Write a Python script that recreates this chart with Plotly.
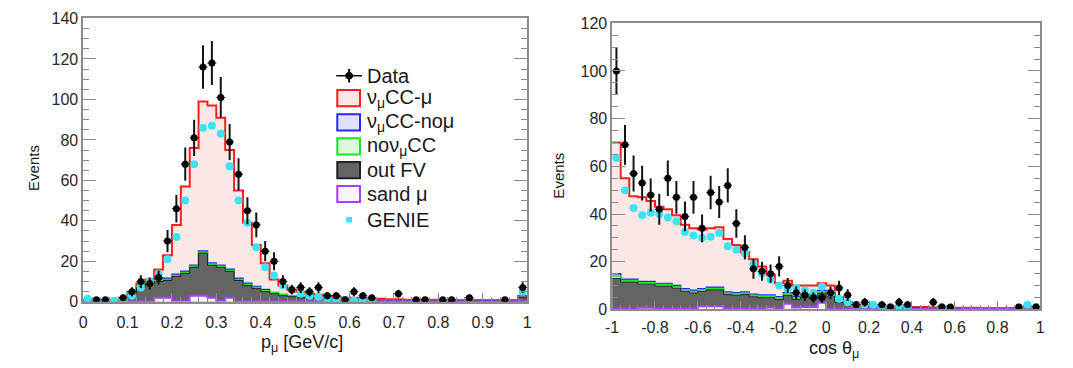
import numpy as np
import plotly.graph_objects as go

W, H = 1073, 368

# ---------------- left panel: muon momentum (50 bins, 0..1 GeV/c)
p_edges = np.round(np.linspace(0.0, 1.0, 51), 4)
p_data = [0, 1, 1, 0, 2, 5, 10, 9, 12, 30, 46, 68, 81, 116, 118, 101, 79, 63, 45, 38,
          25, 20, 10, 6, 7, 5, 7, 3, 3, 1, 5, 3, 2, 0, 0, 4, 0, 1, 1, 0,
          1, 1, 0, 2, 0, 0, 0, 1, 0, 7]
p_genie = [1.5, 0.3, 0.3, 0.5, 1, 3, 7, 10, 14, 21, 32, 50, 68, 86, 87, 83, 67, 50, 39, 27,
           17, 13, 8, 6, 4, 3, 2.5, 1.5, 1, 1, 0.5, 0.5, 0.4, 0, 0, 0, 0, 0, 0, 0,
           0, 0, 0, 0, 0, 0, 0, 0, 0, 5]
p_sand = [0.3, 0.3, 0.3, 0.3, 0.3, 0.3, 0.3, 0.3, 2, 2, 0.5, 0.5, 3, 3, 2, 0.5, 2, 0.3, 0.3, 0.3,
          0.3, 0.3, 0.3, 0.3, 0.3, 0.3, 0.3, 0.3, 0.3, 0.3, 0.3, 0.3, 0.3, 0.3, 0.3, 0.3, 0.3, 0.3, 0.3, 0.3,
          0.3, 0.3, 0.3, 0.3, 0.3, 0.3, 0.3, 0.3, 0.3, 0.3]
p_outfv = [0.2, 0.2, 0.2, 0.3, 1.2, 3.7, 6.7, 8.7, 8, 8.5, 12, 13.5, 14, 21, 16, 16.5, 13, 10.2, 7.7, 6.2,
           4.7, 3.7, 2.7, 2.2, 1.7, 1.7, 1.2, 1.2, 0.9, 0.7, 0.7, 0.7, 0.5, 0.5, 0.4, 0.4, 0.3, 0.3, 0.3, 0.3,
           0.3, 0.3, 0.3, 0.3, 0.3, 0.3, 0.3, 0.3, 0.3, 1.7]
p_nonumucc = [0.1, 0.1, 0.1, 0.1, 0.1, 0.5, 0.5, 0.5, 0.5, 0.5, 0.5, 0.5, 0.5, 0.5, 0.5, 0.5, 0.5, 0.5, 0.5, 0.5,
              0.5, 0.5, 0.5, 0.1, 0.1, 0.1, 0.1, 0.1, 0.1, 0.1, 0.1, 0.1, 0.1, 0.1, 0.1, 0.1, 0.1, 0.1, 0.1, 0.1,
              0.1, 0.1, 0.1, 0.1, 0.1, 0.1, 0.1, 0.1, 0.1, 0.1]
p_numucc_nomu = [0.1, 0.1, 0.1, 0.1, 0.1, 0.1, 0.1, 0.1, 0.6, 0.6, 0.6, 0.6, 0.6, 0.6, 0.6, 0.6, 0.6, 0.6, 0.6, 0.6,
                 0.6, 0.1, 0.1, 0.1, 0.1, 0.1, 0.1, 0.1, 0.1, 0.1, 0.1, 0.1, 0.1, 0.1, 0.1, 0.1, 0.1, 0.1, 0.1, 0.1,
                 0.1, 0.1, 0.1, 0.1, 0.1, 0.1, 0.1, 0.1, 0.1, 0.1]
p_numucc_mu = [0.3, 0.3, 0.3, 0.2, 0.3, 0.4, 1.4, 1.4, 4.9, 11.4, 24.4, 41.9, 57.9, 73.9, 77.9, 72.9, 58.9, 43.4, 29.9, 20.4,
               12.9, 6.4, 4.4, 3.3, 2.8, 1.8, 1.8, 1.3, 1.1, 0.8, 0.8, 0.8, 0.5, 0.5, 0.3, 0.3, 0.2, 0.2, 0.2, 0.2,
               0.1, 0.1, 0.1, 0.1, 0.1, 0.1, 0.1, 0.1, 0.1, 0.8]
p_ticks = [0, 0.1, 0.2, 0.3, 0.4, 0.5, 0.6, 0.7, 0.8, 0.9, 1]
p_ticklabels = ["0", "0.1", "0.2", "0.3", "0.4", "0.5", "0.6", "0.7", "0.8", "0.9", "1"]
p_yticks = [0, 20, 40, 60, 80, 100, 120, 140]

# ---------------- right panel: cos theta (50 bins, -1..1)
c_edges = np.round(np.linspace(-1.0, 1.0, 51), 4)
c_data = [100, 69, 57, 53, 48, 42, 55, 47, 39, 47, 34, 49, 45, 52, 36, 26, 17, 16, 15, 18,
          10, 7, 6, 5, 5, 7, 9, 6, 2, 3, 0, 2, 1, 3, 2, 0, 0, 3, 1, 1,
          0, 0, 0, 0, 0, 0, 0, 1, 0, 1]
c_genie = [63.5, 50, 42.5, 39.5, 40.5, 40, 38.5, 37, 32.5, 31, 30, 30.5, 32, 26.5, 25, 23.5, 19, 15, 12.5, 10,
           8.5, 9, 8, 7, 9.5, 7, 4.5, 3, 2, 2, 2, 1.5, 1, 1.5, 1, 0, 0, 0, 1, 0,
           0, 0, 0, 0, 0, 0, 0, 0, 2, 1]
c_sand = [0.3, 0.3, 0.3, 0.7, 0.7, 0.3, 0.3, 0.3, 0.3, 0.3, 1.3, 1.3, 1.3, 0.3, 0.3, 0.3, 0.3, 0.5, 0.8, 0.3,
          2.4, 0.8, 1, 1, 2.8, 0.3, 0.3, 0.3, 0.3, 0.3, 0.3, 0.3, 0.3, 0.3, 0.3, 0.3, 0.3, 0.3, 0.3, 0.3,
          0.3, 0.3, 0.3, 0.3, 0.3, 0.3, 0.3, 0.3, 0.3, 0.3]
c_outfv = [12.7, 11.2, 11.2, 9.9, 9.9, 9.5, 9.5, 8.6, 7.3, 6.6, 6.3, 6.9, 6.9, 5.9, 5.6, 5.9, 5.0, 4.4, 4.1, 3.9,
           3.5, 3.4, 4.3, 3.5, 4.0, 5.2, 2.7, 1.7, 1.2, 0.9, 0.7, 0.7, 0.5, 0.5, 0.4, 0.4, 0.3, 0.3, 0.3, 0.2,
           0.2, 0.2, 0.2, 0.1, 0.1, 0.1, 0.1, 0.1, 0.1, 0.1]
c_nonumucc = [1.0, 0.6, 0.6, 0.6, 0.6, 0.6, 0.6, 0.6, 0.6, 0.6, 0.6, 0.6, 0.6, 0.6, 0.6, 0.6, 0.6, 0.6, 0.6, 0.6,
              0.6, 0.6, 0.6, 0.6, 0.6, 0.6, 0.6, 0.6, 0.05, 0.05, 0.05, 0.05, 0.05, 0.05, 0.05, 0.05, 0.05, 0.05, 0.05, 0.05,
              0.05, 0.05, 0.05, 0.05, 0.05, 0.05, 0.05, 0.05, 0.05, 0.05]
c_numucc_nomu = [1.0, 0.5, 0.5, 0.5, 0.5, 0.5, 0.5, 0.5, 0.5, 0.5, 0.5, 0.5, 0.5, 0.5, 0.5, 0.5, 0.5, 0.5, 0.5, 0.5,
                 0.5, 0.5, 0.5, 0.5, 0.5, 0.5, 0.05, 0.05, 0.05, 0.05, 0.05, 0.05, 0.05, 0.05, 0.05, 0.05, 0.05, 0.05, 0.05, 0.05,
                 0.05, 0.05, 0.05, 0.05, 0.05, 0.05, 0.05, 0.05, 0.05, 0.05]
c_numucc_mu = [55, 42.4, 34.9, 35.3, 33.8, 32.1, 31.1, 29.5, 26.8, 26.0, 24.8, 24.7, 25.2, 22.2, 20.0, 16.7, 14.6, 12.0, 8.5, 5.7,
               5.0, 4.7, 3.6, 4.4, 3.1, 3.4, 1.4, 0.4, 0.4, 0.7, 0.4, 0.4, 0.3, 0.3, 0.2, 0.2, 0.3, 0.1, 0.1, 0.1,
               0.05, 0.05, 0.05, 0.05, 0.05, 0.05, 0.05, 0.05, 0.05, 0.05]
c_ticks = [-1, -0.8, -0.6, -0.4, -0.2, 0, 0.2, 0.4, 0.6, 0.8, 1]
c_ticklabels = ["-1", "-0.8", "-0.6", "-0.4", "-0.2", "0", "0.2", "0.4", "0.6", "0.8", "1"]
c_yticks = [0, 20, 40, 60, 80, 100, 120]

# ---------------- styles
FONT = "Liberation Sans, Arial, Helvetica, sans-serif"
RED, BLUE, GREEN, PURPLE = "rgb(255,30,30)", "rgb(40,40,255)", "rgb(30,230,30)", "rgb(170,60,255)"
PINK = "rgb(252,231,231)"
GRAY = "rgb(100,100,100)"
CYAN = "rgb(60,228,242)"
FRAME = "rgb(140,140,140)"

fig = go.Figure()


def add_stack(edges, comps, xa, ya):
    sand, outfv, nonu, nomu, mu = [np.array(c, dtype=float) for c in comps]
    c1 = sand
    c2 = c1 + outfv
    c3 = c2 + nonu
    c4 = c3 + nomu
    c5 = c4 + mu
    layers = [
        (c5, RED, 2.0, PINK),
        (c4, BLUE, 1.5, "rgb(225,225,252)"),
        (c3, GREEN, 1.5, "rgb(220,248,220)"),
        (c2, "rgb(35,35,35)", 1.0, GRAY),
        (c1, PURPLE, 2.0, "rgb(249,242,253)"),
    ]
    for vals, lc, lw, fc in layers:
        y = list(vals) + [vals[-1]]
        fig.add_trace(go.Scatter(x=list(edges), y=y, mode="lines", line=dict(shape="hv", color=lc, width=lw),
                                 fill="tozeroy", fillcolor=fc, xaxis=xa, yaxis=ya, showlegend=False,
                                 hoverinfo="skip"))


def add_points(edges, genie, data, halfw, xa, ya):
    centers = (edges[:-1] + edges[1:]) / 2
    gx = [c for c, g in zip(centers, genie) if g > 0]
    gy = [g for g in genie if g > 0]
    fig.add_trace(go.Scatter(x=gx, y=gy, mode="markers", marker=dict(color=CYAN, size=8, symbol="circle"),
                             xaxis=xa, yaxis=ya, showlegend=False))
    dx = [c for c, d in zip(centers, data) if d > 0]
    dy = [d for d in data if d > 0]
    fig.add_trace(go.Scatter(x=dx, y=dy, mode="markers", marker=dict(color="black", size=7),
                             error_y=dict(type="data", array=list(np.sqrt(dy)), thickness=2, width=0, color="rgb(20,20,20)"),
                             error_x=dict(type="constant", value=halfw, thickness=1, width=0, color="rgb(20,20,20)"),
                             xaxis=xa, yaxis=ya, showlegend=False))


add_stack(p_edges, [p_sand, p_outfv, p_nonumucc, p_numucc_nomu, p_numucc_mu], "x", "y")
add_points(p_edges, p_genie, p_data, 0.01, "x", "y")
add_stack(c_edges, [c_sand, c_outfv, c_nonumucc, c_numucc_nomu, c_numucc_mu], "x2", "y2")
add_points(c_edges, c_genie, c_data, 0.02, "x2", "y2")


def px(x):
    return x / W


def py(y):
    return 1 - y / H


tickfont = dict(family=FONT, size=16, color="rgb(40,40,40)")
common = dict(showline=True, linecolor=FRAME, linewidth=1.5, ticks="inside", tickcolor=FRAME, tickwidth=1.2,
              showgrid=False, zeroline=False, tickfont=tickfont, fixedrange=True)

fig.update_layout(
    width=W, height=H, margin=dict(l=0, r=0, t=0, b=0),
    paper_bgcolor="white", plot_bgcolor="white", showlegend=False,
    xaxis=dict(domain=[px(77), px(526)], range=[0, 1], anchor="y", mirror=True, ticklen=9, ticklabelstandoff=5,
               tickmode="array", tickvals=p_ticks, ticktext=p_ticklabels,
               minor=dict(ticks="inside", ticklen=5, dtick=0.02, tick0=0, tickcolor=FRAME, showgrid=False), **common),
    yaxis=dict(domain=[py(308), py(11)], range=[0, 140], anchor="x", mirror="ticks", ticklen=13,
               tickmode="array", tickvals=p_yticks, ticktext=[str(v) for v in p_yticks],
               minor=dict(ticks="inside", ticklen=6.5, dtick=5, tick0=0, tickcolor=FRAME, showgrid=False), **common),
    xaxis2=dict(domain=[px(612), px(1045)], range=[-1, 1], anchor="y2", mirror=True, ticklen=9, ticklabelstandoff=3,
                tickmode="array", tickvals=c_ticks, ticktext=c_ticklabels,
                minor=dict(ticks="inside", ticklen=5, dtick=0.04, tick0=-1, tickcolor=FRAME, showgrid=False), **common),
    yaxis2=dict(domain=[py(316), py(16)], range=[0, 120], anchor="x2", mirror="ticks", ticklen=13,
                tickmode="array", tickvals=c_yticks, ticktext=[str(v) for v in c_yticks],
                minor=dict(ticks="inside", ticklen=6.5, dtick=5, tick0=0, tickcolor=FRAME, showgrid=False), **common),
)

ann = []
shapes = []
txt = dict(family=FONT, color="rgb(25,25,25)")

# axis titles
ann.append(dict(x=px(27), y=py(168), xref="paper", yref="paper", text="Events", textangle=-90, showarrow=False,
                font=dict(size=15, **txt), xanchor="center", yanchor="middle"))
ann.append(dict(x=px(558), y=py(176), xref="paper", yref="paper", text="Events", textangle=-90, showarrow=False,
                font=dict(size=15, **txt), xanchor="center", yanchor="middle"))
ann.append(dict(x=px(298), y=py(352), xref="paper", yref="paper", text="p<sub>μ</sub> [GeV/c]", showarrow=False,
                font=dict(size=18, **txt), xanchor="center", yanchor="middle"))
ann.append(dict(x=px(836), y=py(358), xref="paper", yref="paper", text="cos θ<sub>μ</sub>", showarrow=False,
                font=dict(size=18, **txt), xanchor="center", yanchor="middle"))

# legend (drawn manually, ROOT style)
leg_x0, leg_x1, leg_tx = 334, 357, 362
shapes.append(dict(type="line", xref="paper", yref="paper", x0=px(333), x1=px(359), y0=py(71), y1=py(71),
                   line=dict(color="black", width=1.5)))
shapes.append(dict(type="line", xref="paper", yref="paper", x0=px(346), x1=px(346), y0=py(64), y1=py(78),
                   line=dict(color="black", width=2)))
shapes.append(dict(type="circle", xref="paper", yref="paper", x0=px(342.5), x1=px(349.5), y0=py(67.5), y1=py(74.5),
                   fillcolor="black", line=dict(color="black", width=1)))
ann.append(dict(x=px(leg_tx), y=py(71), xref="paper", yref="paper", text="Data", showarrow=False,
                font=dict(size=20, **txt), xanchor="left", yanchor="middle"))

legend_rows = [
    (94.5, "ν<sub>μ</sub>CC-μ", RED, PINK),
    (120, "ν<sub>μ</sub>CC-noμ", BLUE, "rgb(225,225,252)"),
    (145, "noν<sub>μ</sub>CC", GREEN, "rgb(220,248,220)"),
    (170, "out FV", "rgb(35,35,35)", GRAY),
    (195, "sand μ", PURPLE, "rgb(249,242,253)"),
]
for yc, label, lc, fc in legend_rows:
    shapes.append(dict(type="rect", xref="paper", yref="paper", x0=px(leg_x0), x1=px(leg_x1),
                       y0=py(yc + 8.5), y1=py(yc - 8.5), fillcolor=fc, line=dict(color=lc, width=2)))
    ann.append(dict(x=px(leg_tx), y=py(yc), xref="paper", yref="paper", text=label, showarrow=False,
                    font=dict(size=20, **txt), xanchor="left", yanchor="middle"))

shapes.append(dict(type="rect", xref="paper", yref="paper", x0=px(343), x1=px(349), y0=py(225), y1=py(219),
                   fillcolor=CYAN, line=dict(color=CYAN, width=0)))
ann.append(dict(x=px(leg_tx), y=py(222), xref="paper", yref="paper", text="GENIE", showarrow=False,
                font=dict(size=20, **txt), xanchor="left", yanchor="middle"))

fig.update_layout(annotations=ann, shapes=shapes)
fig.write_html("out.html")
